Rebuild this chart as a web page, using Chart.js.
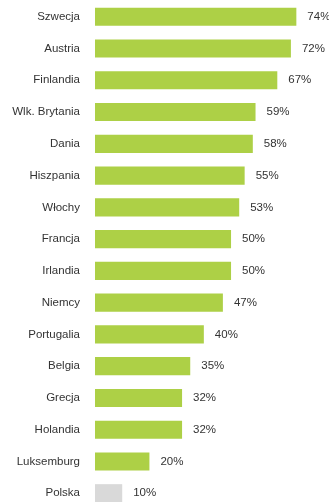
<!DOCTYPE html>
<html>
<head>
<meta charset="utf-8">
<script src="https://cdn.jsdelivr.net/npm/chart.js@4/dist/chart.umd.min.js"></script>
<style>
    html, body { margin: 0; padding: 0; background: #fff; overflow: hidden; }
    #wrap { position: relative; width: 329px; height: 502px; overflow: hidden; }
    /* tick padding also pads the axis top/bottom, so the canvas is pulled up */
    #wrap canvas { position: absolute; left: 0; top: -21px; }
</style>
</head>
<body>
<div id="wrap">
    <canvas id="myChart" width="329" height="552"></canvas>
</div>
<script>
const countries = ['Szwecja', 'Austria', 'Finlandia', 'Wlk. Brytania', 'Dania', 'Hiszpania', 'Włochy',
    'Francja', 'Irlandia', 'Niemcy', 'Portugalia', 'Belgia', 'Grecja', 'Holandia', 'Luksemburg', 'Polska'];
const shares = [74, 72, 67, 59, 58, 55, 53, 50, 50, 47, 40, 35, 32, 32, 20, 10];
const highlight = 'Polska';

const green = '#add046';
const grey = '#d9d9d9';
const textColor = '#333333';
const font = { family: '"Liberation Sans", Arial, sans-serif', size: 11.5 };

// percentage printed just past the end of each bar
const valueLabels = {
    id: 'valueLabels',
    afterDatasetsDraw(chart) {
        const ctx = chart.ctx;
        const meta = chart.getDatasetMeta(0);
        ctx.save();
        ctx.font = font.size + 'px ' + font.family;
        ctx.fillStyle = textColor;
        ctx.textAlign = 'left';
        ctx.textBaseline = 'middle';
        meta.data.forEach((bar, i) => {
            ctx.fillText(shares[i] + '%', bar.x + 11, bar.y);
        });
        ctx.restore();
    }
};

var ctx = document.getElementById('myChart').getContext('2d');
var chart = new Chart(ctx, {
    type: 'bar',
    data: {
        labels: countries,
        datasets: [{
            data: shares,
            backgroundColor: countries.map(c => c === highlight ? grey : green),
            borderWidth: 0,
            barPercentage: 0.57,
            categoryPercentage: 1
        }]
    },
    options: {
        indexAxis: 'y',
        responsive: false,
        animation: false,
        layout: { padding: 0 },
        plugins: {
            legend: { display: false },
            tooltip: { enabled: false }
        },
        scales: {
            x: {
                display: false,
                min: 0,
                max: 86
            },
            y: {
                grid: { display: false, drawTicks: false },
                border: { display: false },
                ticks: {
                    color: textColor,
                    font: font,
                    padding: 15,
                    autoSkip: false
                },
                afterFit(scale) {
                    scale.width = 95;
                }
            }
        }
    },
    plugins: [valueLabels]
});
</script>
</body>
</html>
